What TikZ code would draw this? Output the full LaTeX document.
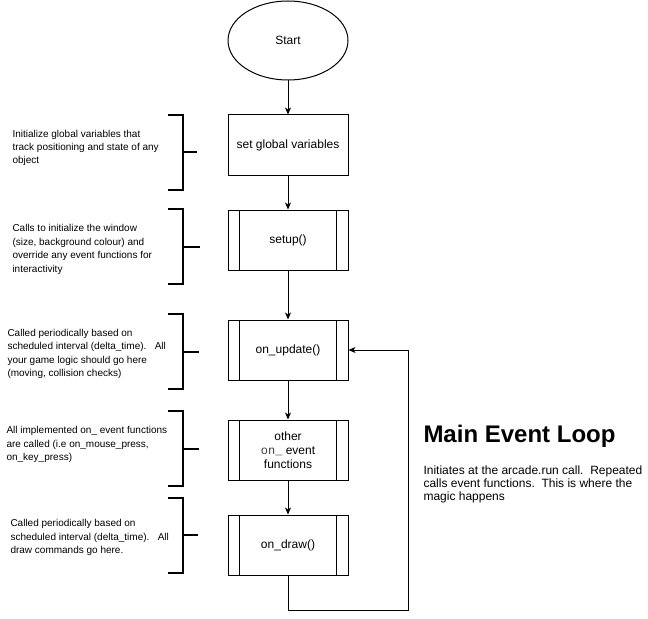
\documentclass[tikz,border=0pt]{standalone}
\usepackage{fontspec}
\setmainfont{Liberation Sans}
\newfontfamily\monofont{Liberation Mono}
\usetikzlibrary{shapes.geometric,arrows.meta}

\begin{document}
\begin{tikzpicture}[x=1bp,y=-1bp,line width=1bp,
  flow/.style={-{Stealth[length=7bp,width=6bp,inset=2bp]}},
  proc/.style={draw,minimum width=120bp,minimum height=60bp,inner sep=0pt,align=center,font=\fontsize{12bp}{14bp}\selectfont},
  note/.style={anchor=west,align=left,inner sep=0pt,font=\fontsize{10bp}{13.4bp}\selectfont},
  brace/.style={line width=2bp}]
\useasboundingbox (0,0) rectangle (648,619);
% flow chart
\node[draw,ellipse,minimum width=120bp,minimum height=79bp,font=\fontsize{12bp}{14bp}\selectfont] (start) at (288,40.5) {Start};
\node[proc] (vars) at (288,145) {set global variables};
\node[proc] (setup) at (288,240) {setup()};
\node[proc] (update) at (288,350) {on\_update()};
\node[proc] (other) at (288,450) {other\\{\monofont\color{black!75}on\_} event\\functions};
\node[proc] (draw) at (288,545) {on\_draw()};
\foreach \n in {setup,update,other,draw}
  \draw ([xshift=12bp]\n.north west)--([xshift=12bp]\n.south west)
        ([xshift=-12bp]\n.north east)--([xshift=-12bp]\n.south east);
\draw[flow] (start)--(vars);
\draw[flow] (vars)--(setup);
\draw[flow] (setup)--(update);
\draw[flow] (update)--(other);
\draw[flow] (other)--(draw);
\coordinate (loop) at (408,610);
\draw[flow] (draw.south)|-(loop)|-(update.east);
% brackets
\foreach \t/\m/\e in {115/152/197,209/247/200,314/352/199,411/449/199,498/535/198}
  \draw[brace] (168,\t)--(183,\t)--(183,\t+75)--(168,\t+75) (183,\m)--(\e,\m);
% notes
\node[note] (n1) at (12,148) {Initialize global variables that\\track positioning and state of any\\object};
\node[note] (n2) at (12,249.5) {Calls to initialize the window\\(size, background colour) and\\override any event functions for\\interactivity};
\node[note] (n3) at (7,354) {Called periodically based on\\scheduled interval (delta\_time).\ \ \ All\\your game logic should go here\\(moving, collision checks)};
\node[note] (n4) at (6,444.5) {All implemented on\_ event functions\\are called (i.e on\_mouse\_press,\\on\_key\_press)};
\node[note] (n5) at (10,537.5) {Called periodically based on\\scheduled interval (delta\_time).\ \ \ All\\draw commands go here.};
% main loop
\node[anchor=base west,inner sep=0pt,font=\fontsize{24bp}{28bp}\bfseries\selectfont] (title) at (423,442) {Main Event Loop};
\node[anchor=north west,align=left,inner sep=0pt,font=\fontsize{12bp}{13.3bp}\selectfont] (desc) at (423,465) {Initiates at the arcade.run call.\ \ Repeated\\calls event functions.\ \ This is where the\\magic happens};
\end{tikzpicture}
\end{document}
